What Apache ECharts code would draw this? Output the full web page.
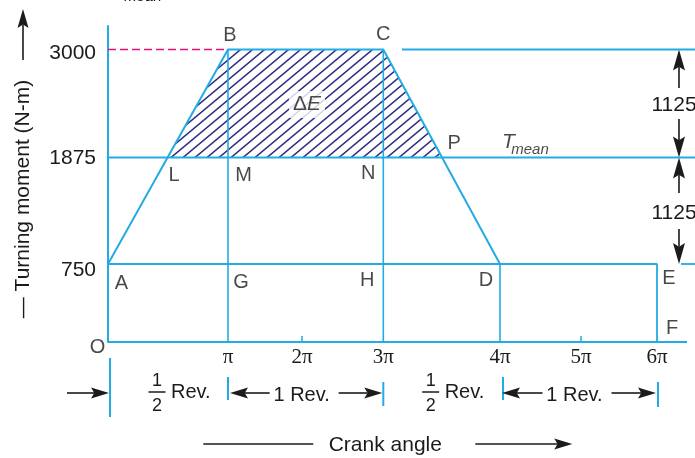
<!DOCTYPE html>
<html><head><meta charset="utf-8">
<script src="https://cdn.jsdelivr.net/npm/echarts@6/dist/echarts.min.js"></script>
<style>html,body{margin:0;padding:0;background:#fff}#c{width:695px;height:458px}</style>
</head><body><div id="c"></div>
<script>
// ---------------- data ----------------
const xTickMultiples = [1, 2, 3, 4, 5, 6];                 // crank angle ticks, multiples of π
const xTickLabels = ['π', '2π', '3π', '4π', '5π', '6π'];
const xMinorTicks = [2, 5];
const yTickValues = [750, 1875, 3000];                      // turning moment, N-m
const yTickLabels = ['750', '1875', '3000'];
const tMin = 750, tMean = 1875, tMax = 3000;
const excessLabels = ['1125', '1125'];
// diagram vertices: [angle / π, turning moment]
const trapezoid = [[0, 750], [1, 3000], [3, 3000], [4, 750]];          // A B C D
const baseLine = [[0, 750], [6, 750], [6, 0]];                          // A ... E F
const hatched = [[0.5, 1875], [1, 3000], [3, 3000], [3.5, 1875]];       // L B C P
const verticals = [[1, 3000, 0], [3, 3000, 0], [4, 750, 0]];             // angle, top, bottom
const pointNames = ['O', 'A', 'B', 'C', 'D', 'E', 'F', 'G', 'H', 'L', 'M', 'N', 'P'];
const pointValues = [[0, 0], [0, 750], [1, 3000], [3, 3000], [4, 750], [6, 750], [6, 0],
                     [1, 750], [3, 750], [0.5, 1875], [1, 1875], [3, 1875], [3.5, 1875]];
const halfRevSpans = [[0, 1], [3, 4]];
const fullRevSpans = [[1, 3], [4, 6]];

// ---------------- layout / style ----------------
const CYAN = '#22abe4', INK = '#1c1a1b', NAVY = '#2b2e85', MAGENTA = '#e2137f';
const FONT = "'Liberation Sans', Arial, Helvetica, sans-serif";
const SERIF = "'Liberation Serif', 'Times New Roman', serif";
// the figure is not drawn to scale: drawn position of each knot along the axes
const X_KNOTS = [0, 120, 194, 275.3, 392, 473, 549];
const Y_KNOTS_T = [0, 750, 1875, 3000];
const Y_KNOTS_P = [0, 78, 184.5, 292.5];
const X_MAX = 587, Y_MAX = 316;
const EXT = { right: 6.5, refStart: 3.16, stubStart: 6.316, axisEnd: 6.395 };
const Y_LABEL_PAD = [13, 2, 7];   // small downward shifts of the tick labels
function X(m) { let i = Math.floor(m); if (i < 0) i = 0; if (i > 5) i = 5; return X_KNOTS[i] + (m - i) * (X_KNOTS[i + 1] - X_KNOTS[i]); }
function Y(t) { let i = 0; while (i < Y_KNOTS_T.length - 2 && t > Y_KNOTS_T[i + 1]) i++; return Y_KNOTS_P[i] + (t - Y_KNOTS_T[i]) * (Y_KNOTS_P[i + 1] - Y_KNOTS_P[i]) / (Y_KNOTS_T[i + 1] - Y_KNOTS_T[i]); }
const P = p => [X(p[0]), Y(p[1])];
const LABEL_OFFSETS = { O: [-10.5, 5], A: [13.5, 19], B: [2, -14.5], C: [0, -15.5], D: [-14, 16], E: [12, 14], F: [15, -14],
  G: [13, 18], H: [-16, 16], L: [6, 17.5], M: [15.5, 17.5], N: [-15, 15.5], P: [12.5, -14] };

// hatch pattern (lines rising to the right, ~39°)
const HW = 12, HH = 10;
const hc = document.createElement('canvas'); hc.width = HW; hc.height = HH;
const hx = hc.getContext('2d'); hx.strokeStyle = NAVY; hx.lineWidth = 1.5; hx.beginPath();
for (const k of [0, 1, 2]) { hx.moveTo(-2, HH * (k + 2 / HW)); hx.lineTo(HW + 2, HH * (k - (HW + 2) / HW)); }
hx.stroke();

function seg(points, lineStyle) {
  return { type: 'line', data: points.map(P), symbol: 'none', silent: true, clip: false, animation: false,
    lineStyle: Object.assign({ color: CYAN, width: 1.8 }, lineStyle || {}) };
}

const chart = echarts.init(document.getElementById('c'), null, { renderer: 'canvas' });
const series = [];
series.push({
  type: 'custom', silent: true, clip: false, animation: false, data: [[0, 0]],
  renderItem: (params, api) => ({
    type: 'polygon', shape: { points: hatched.map(p => api.coord(P(p))) },
    style: { fill: { image: hc, repeat: 'repeat' }, stroke: null }
  })
});
series.push(seg(trapezoid, { width: 2 }));
series.push(seg(baseLine));
verticals.forEach(v => series.push(seg([[v[0], v[1]], [v[0], v[2]]], { width: 1.6 })));
series.push(seg([[0, tMean], [EXT.right, tMean]], { width: 2 }));
series.push(seg([[EXT.refStart, tMax], [EXT.right, tMax]]));
series.push(seg([[EXT.stubStart, tMin], [EXT.right, tMin]]));
series.push(seg([[0, 0], [EXT.axisEnd, 0]], { width: 2 }));
series.push(seg([[0, tMax], [1, tMax]], { color: MAGENTA, width: 1.7, type: [8, 4] }));
series.push({
  type: 'scatter', silent: true, animation: false, symbolSize: 1, itemStyle: { color: 'rgba(0,0,0,0)' },
  data: pointNames.map((n, i) => ({ name: n, value: P(pointValues[i]), label: { offset: LABEL_OFFSETS[n] } })),
  label: { show: true, position: 'inside', formatter: '{b}', color: INK, fontSize: 20, fontFamily: FONT }
});
series.push({
  type: 'scatter', silent: true, animation: false, symbolSize: 1, itemStyle: { color: 'rgba(0,0,0,0)' },
  data: [{ value: P([2, (tMax + tMean) / 2]) }],
  label: { show: true, position: 'inside', offset: [5, 1], formatter: '{d|Δ}{e|E}', backgroundColor: '#fff', padding: [3, 4],
    rich: { d: { fontSize: 21, fontFamily: FONT, color: INK }, e: { fontSize: 21, fontFamily: FONT, fontStyle: 'italic', color: INK } } }
});
series.push({
  type: 'scatter', silent: true, animation: false, symbolSize: 1, itemStyle: { color: 'rgba(0,0,0,0)' },
  data: [{ value: P([4, tMean]), label: { formatter: 'T', offset: [8.5, -15], fontSize: 21 } },
         { value: P([4, tMean]), label: { formatter: 'mean', offset: [30, -8], fontSize: 15 } }],
  label: { show: true, position: 'inside', color: INK, fontFamily: FONT, fontStyle: 'italic' }
});

const yRich = {};
Y_LABEL_PAD.forEach((p, i) => { yRich['a' + i] = { padding: [p, 0, 0, 0], fontSize: 21, fontFamily: FONT, color: INK }; });

chart.setOption({
  animation: false,
  grid: { left: 108, top: 26, width: X_MAX, height: Y_MAX, outerBoundsMode: 'none', containLabel: false },
  xAxis: {
    type: 'value', min: 0, max: X_MAX, splitLine: { show: false }, axisLine: { show: false },
    axisTick: { show: true, inside: true, length: 6, customValues: xMinorTicks.map(X), lineStyle: { color: CYAN, width: 1.5 } },
    axisLabel: { customValues: xTickMultiples.map(X), margin: 5, color: INK, fontSize: 21, fontFamily: SERIF,
      formatter: v => { const i = xTickMultiples.findIndex(m => Math.abs(X(m) - v) < 1e-6); return i >= 0 ? xTickLabels[i] : ''; } }
  },
  yAxis: {
    type: 'value', min: 0, max: Y_MAX, splitLine: { show: false },
    axisLine: { show: true, lineStyle: { color: CYAN, width: 2 } }, axisTick: { show: false },
    axisLabel: { customValues: yTickValues.map(Y), margin: 12, color: INK, fontSize: 21, fontFamily: FONT, rich: yRich,
      formatter: v => { const i = yTickValues.findIndex(t => Math.abs(Y(t) - v) < 1e-6); return i >= 0 ? '{a' + i + '|' + yTickLabels[i] + '}' : ''; } }
  },
  series
});

// ---------------- annotations ----------------
const g = [];
const px = (m, t) => chart.convertToPixel({ gridIndex: 0 }, P([m, t]));
function arrow(x1, y1, x2, y2, hl, hw) {
  hl = hl || 18; hw = hw || 11;
  const dx = x2 - x1, dy = y2 - y1, L = Math.hypot(dx, dy), ux = dx / L, uy = dy / L, nx = -uy, ny = ux;
  const bx = x2 - ux * hl, by = y2 - uy * hl, kx = x2 - ux * hl * 0.82, ky = y2 - uy * hl * 0.82;
  g.push({ type: 'line', silent: true, shape: { x1, y1, x2: kx, y2: ky }, style: { stroke: INK, lineWidth: 1.6 } });
  g.push({ type: 'polygon', silent: true, shape: { points: [[x2, y2], [bx + nx * hw / 2, by + ny * hw / 2], [kx, ky], [bx - nx * hw / 2, by - ny * hw / 2]] }, style: { fill: INK } });
}
function textStyle(str, size, align, italic) {
  return { text: str, fill: INK, font: (italic ? 'italic ' : '') + (size || 20) + 'px ' + FONT,
    align: align || 'center', verticalAlign: 'middle', textAlign: align || 'center', textVerticalAlign: 'middle' };
}
function text(str, x, y, size, extra) {
  g.push(Object.assign({ type: 'text', silent: true, x, y, style: textStyle(str, size) }, extra || {}));
}
function vbar(x, y1, y2) { g.push({ type: 'line', silent: true, shape: { x1: x, y1, x2: x, y2 }, style: { stroke: CYAN, lineWidth: 2 } }); }

// y-axis title and arrow
text('— Turning moment (N-m)', 23, 199, 21, { rotation: Math.PI / 2 });
arrow(23, 60, 23, 9, 19, 11);
// clipped subscript at the very top
g.push({ type: 'text', silent: true, x: 143, y: -3.6, style: textStyle('mean', 15, 'center', true) });

// right-hand 1125 dimensions
const yMax = px(0, tMax)[1], yMean = px(0, tMean)[1], yMin = px(0, tMin)[1];
const ax = px(EXT.right, 0)[0] - 16;
arrow(ax, yMax + 38.5, ax, yMax, 21, 12);
arrow(ax, yMean - 38.5, ax, yMean, 21, 12);
text(excessLabels[0], ax - 5, (yMax + yMean) / 2 + 2, 21);
arrow(ax, yMean + 35.5, ax, yMean, 21, 12);
arrow(ax, yMin - 35, ax, yMin, 21, 12);
text(excessLabels[1], ax - 5, (yMean + yMin) / 2 + 2, 21);

// bottom revolution dimensions
const xs = m => px(m, 0)[0];
const rowY = 393;
const BAR_LAYOUT = { 0: [2, 358, 417], 1: [0, 377, 400], 3: [0, 382, 406], 4: [3, 377, 400], 6: [1, 382, 407] };
Object.keys(BAR_LAYOUT).forEach(k => { const b = BAR_LAYOUT[k]; vbar(xs(+k) + b[0], b[1], b[2]); });
arrow(xs(0) - 41, rowY, xs(0) + 1, rowY);
halfRevSpans.forEach(s => {
  const mid = (xs(s[0]) + xs(s[1])) / 2, fx = mid - 11;
  text('1', fx, 381, 18);
  g.push({ type: 'line', silent: true, shape: { x1: fx - 8.5, y1: 392, x2: fx + 8.5, y2: 392 }, style: { stroke: INK, lineWidth: 1.5 } });
  text('2', fx, 406, 18);
  g.push({ type: 'text', silent: true, x: mid + 3, y: 392, style: textStyle('Rev.', 20, 'left') });
});
fullRevSpans.forEach(s => {
  const a = xs(s[0]), b = xs(s[1]), c = (a + b) / 2 - 4;
  text('1 Rev.', c, 395, 20);
  arrow(c - 32, rowY, a + 2, rowY);
  arrow(c + 37, rowY, b - 1, rowY);
});
// crank angle
const cc = xs(3) + 2;
g.push({ type: 'line', silent: true, shape: { x1: cc - 182, y1: 444, x2: cc - 72, y2: 444 }, style: { stroke: INK, lineWidth: 1.5 } });
text('Crank angle', cc, 445, 21);
arrow(cc + 90, 444, cc + 187, 444);

chart.setOption({ graphic: { elements: g } });
</script>
</body></html>
